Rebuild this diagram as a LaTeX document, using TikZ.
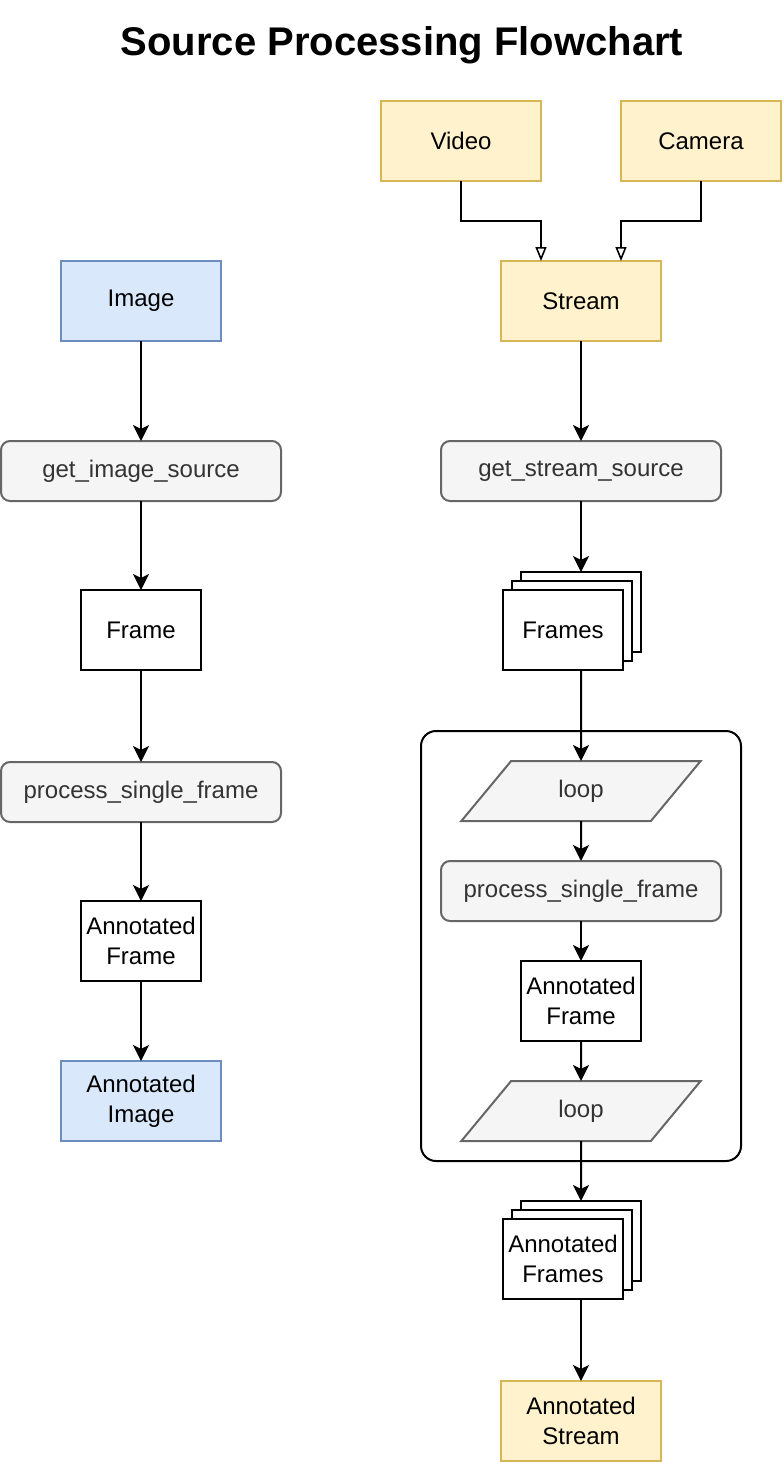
\documentclass[tikz,border=0pt]{standalone}
\usepackage{fontspec}
\setmainfont{Liberation Sans}
\usetikzlibrary{arrows.meta,shapes.geometric,calc}
\definecolor{yfill}{HTML}{FFF2CC}
\definecolor{ystroke}{HTML}{D6B656}
\definecolor{bfill}{HTML}{DAE8FC}
\definecolor{bstroke}{HTML}{6C8EBF}
\definecolor{gfill}{HTML}{F5F5F5}
\definecolor{gstroke}{HTML}{666666}
\definecolor{gtext}{HTML}{333333}
\tikzset{
  base/.style={draw, line width=2pt, outer sep=0pt, inner sep=2pt, align=center,
    font=\fontsize{24}{30}\selectfont},
  yellowbox/.style={base, fill=yfill, draw=ystroke, minimum width=160pt, minimum height=80pt},
  bluebox/.style={base, fill=bfill, draw=bstroke, minimum width=160pt, minimum height=80pt},
  plainbox/.style={base, fill=white, draw=black, minimum width=120pt, minimum height=80pt},
  funcbox/.style={base, fill=gfill, draw=gstroke, text=gtext, rounded corners=9pt,
    minimum width=280pt, minimum height=60pt},
  loopbox/.style={base, fill=gfill, draw=gstroke, text=gtext, trapezium,
    trapezium left angle=56.31, trapezium right angle=123.69, trapezium stretches=true,
    minimum width=240pt, minimum height=60pt},
  flow/.style={line width=2pt, -{Stealth[length=16pt,width=16pt,inset=4pt]}},
  openflow/.style={line width=2pt, -{Triangle[open,length=14pt,width=11pt,fill=white,line width=1.6pt]}},
  container/.style={draw, line width=2pt, rounded corners=15pt},
}
\begin{document}
\begin{tikzpicture}[x=1pt,y=-1pt]
\useasboundingbox (0,0) rectangle (784,1462);
% title
\node[anchor=base, font=\fontsize{40}{48}\selectfont\bfseries] (title) at (402,55) {Source Processing Flowchart};

% left column
\node[bluebox] (image) at (141,301) {Image};
\node[funcbox] (gis) at (141,471) {get\_image\_source};
\node[plainbox] (frame) at (141,630) {Frame};
\node[funcbox] (psf) at (141,792) {process\_single\_frame};
\node[plainbox] (aframe) at (141,941) {Annotated\\Frame};
\node[bluebox] (aimage) at (141,1101) {Annotated\\Image};

\draw[flow] (image.south) -- (gis.north);
\draw[flow] (gis.south) -- (frame.north);
\draw[flow] (frame.south) -- (psf.north);
\draw[flow] (psf.south) -- (aframe.north);
\draw[flow] (aframe.south) -- (aimage.north);

% right column
\node[yellowbox] (video) at (461,141) {Video};
\node[yellowbox] (camera) at (701,141) {Camera};
\node[yellowbox] (stream) at (581,301) {Stream};
\draw[openflow] (video.south) -- ++(0,40) -| ([xshift=-40pt]stream.north);
\draw[openflow] (camera.south) -- ++(0,40) -| ([xshift=40pt]stream.north);

\node[funcbox] (gss) at (581,471) {get\_stream\_source};
\draw[flow] (stream.south) -- (gss.north);

\node[plainbox] (framesB) at (581,612) {};
\node[plainbox] (framesM) at (572,621) {};
\node[plainbox] (frames) at (563,630) {Frames};
\draw[flow] (gss.south) -- (framesB.north);

\draw[container] (421,731) rectangle (741,1161);
\node[loopbox] (loopA) at (581,791) {loop};
\node[funcbox] (psf2) at (581,891) {process\_single\_frame};
\node[plainbox] (aframe2) at (581,1001) {Annotated\\Frame};
\node[loopbox] (loopB) at (581,1111) {loop};

\draw[flow] (frames.south -| gss.south) -- (loopA.north);
\draw[flow] (loopA.south) -- (psf2.north);
\draw[flow] (psf2.south) -- (aframe2.north);
\draw[flow] (aframe2.south) -- (loopB.north);

\node[plainbox] (aframesB) at (581,1241) {};
\node[plainbox] (aframesM) at (572,1250) {};
\node[plainbox] (aframes) at (563,1259) {Annotated\\Frames};
\draw[flow] (loopB.south) -- (aframesB.north);

\node[yellowbox] (astream) at (581,1421) {Annotated\\Stream};
\draw[flow] (aframes.south -| gss.south) -- (astream.north);
\end{tikzpicture}
\end{document}
